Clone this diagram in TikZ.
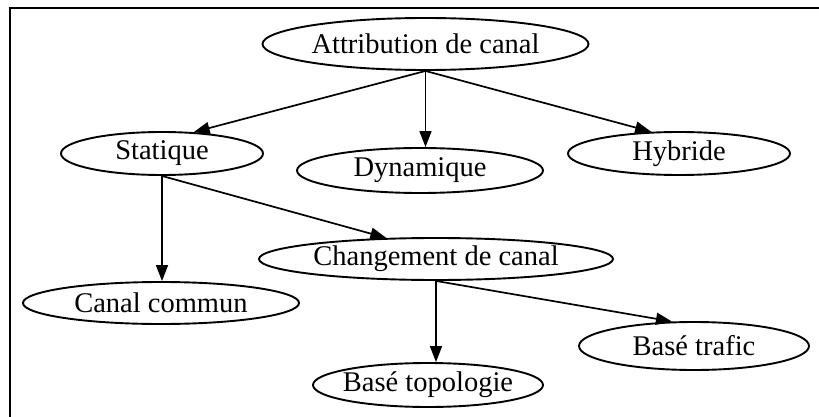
\documentclass[tikz,border=0pt]{standalone}
\usepackage{fontspec}
\setmainfont{Liberation Serif}
\usetikzlibrary{shapes.geometric,arrows.meta}
\newcommand{\ctxt}[1]{\makebox[0pt]{#1}}
\begin{document}
\begin{tikzpicture}[x=1pt,y=-1pt,
  el/.style={draw,ellipse,line width=1.9pt,inner sep=0pt,font=\fontsize{28.5}{34}\selectfont},
  arr/.style={line width=1.7pt,-{Triangle[length=16pt,width=12pt]}},
  frame/.style={line width=2.2pt}]
\useasboundingbox (0,0) rectangle (819,417);
\draw[frame] (10,417) -- (10,8) -- (819,8);
\node[el,minimum width=326pt,minimum height=52pt] (A) at (425.5,44) {\ctxt{Attribution de canal}};
\node[el,minimum width=202pt,minimum height=43pt] (S) at (162,153.5) {\ctxt{Statique}};
\node[el,minimum width=246pt,minimum height=45pt] (D) at (420,170.5) {\ctxt{Dynamique}};
\node[el,minimum width=222pt,minimum height=43pt] (H) at (679,153.5) {\ctxt{Hybride}};
\node[el,minimum width=354pt,minimum height=42pt] (CH) at (436,259) {\ctxt{Changement de canal}};
\node[el,minimum width=276pt,minimum height=42pt] (CC) at (161,303) {\ctxt{Canal commun}};
\node[el,minimum width=230pt,minimum height=48pt] (BT) at (694,346) {\ctxt{Basé trafic}};
\node[el,minimum width=230pt,minimum height=44pt] (BP) at (428,385) {\ctxt{Basé topologie}};
\draw[arr] (A.south) -- (S.34);
\draw[arr] (A.south) -- (A.south |- D.north);
\draw[arr] (A.south) -- (H.142);
\draw[arr] (S.south) -- (S.south |- CC.north);
\draw[arr] (S.south) -- (CH.157);
\draw[arr] (CH.south) -- (CH.south |- BP.north);
\draw[arr] (CH.south) -- (BT.132);
\end{tikzpicture}
\end{document}
